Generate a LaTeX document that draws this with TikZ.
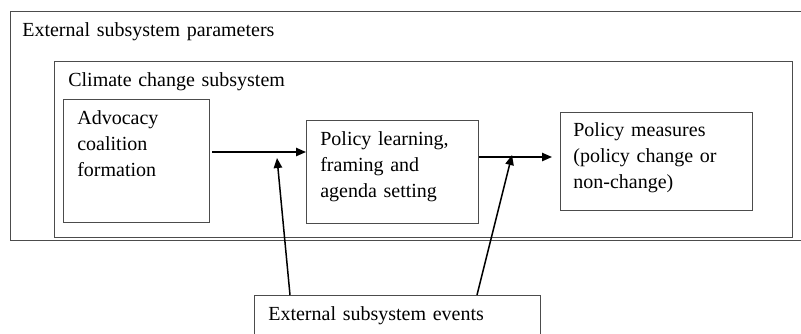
\documentclass[tikz,border=0pt]{standalone}
\usepackage{fontspec}
\setmainfont{Liberation Serif}
\usetikzlibrary{arrows.meta, positioning, calc}
\tikzset{
    frame/.style={draw=black!70, line width=0.6pt},
    box/.style={frame, rectangle, anchor=north west, inner sep=0pt},
    txt/.style={anchor=base west, inner sep=0pt, align=left, text width=6cm},
    arr/.style={-{Triangle[length=6pt, width=5pt]}, line width=0.9pt},
}

\begin{document}
\begin{tikzpicture}[x=0.6pt, y=-0.6pt, font=\fontsize{12}{15.6}\selectfont]
    \useasboundingbox (0,0) rectangle (801,333);
    \clip (0,0) rectangle (801,333);

    % outer frame, open on the right
    \draw[frame] (810,11) -- (10,11) -- (10,240) -- (810,240);
    \node[txt] (param) at (22,36) {External subsystem parameters};

    \node[box, minimum width=442.8pt, minimum height=105.6pt] (clim) at (54,61) {};
    \node[txt] (climtxt) at (68,86) {Climate change subsystem};

    \node[box, minimum width=87.6pt, minimum height=73.8pt] (adv) at (63,99) {};
    \node[box, minimum width=103.2pt, minimum height=61.8pt] (learn) at (306,120) {};
    \node[box, minimum width=115.2pt, minimum height=58.8pt] (meas) at (560,112) {};
    \node[box, minimum width=171.6pt, minimum height=30pt] (events) at (254,295) {};

    \node[txt] (advtxt) at (77,124) {Advocacy\\coalition\\formation};
    \node[txt] (learntxt) at (320,145) {Policy learning,\\framing and\\agenda setting};
    \node[txt] (meastxt) at (573,136) {Policy measures\\(policy change or\\non-change)};
    \node[txt] (eventstxt) at (268,320) {External subsystem events};

    \coordinate (a1) at (212,152);
    \coordinate (a2) at (552,157);
    \coordinate (t1) at (277,158);
    \coordinate (t2) at (512,155);

    \draw[arr] (a1) -- (a1 -| learn.west);
    \draw[arr] (a2 -| learn.east) -- (a2);
    \draw[arr] ([xshift=21.6pt]events.north west) -- (t1);
    \draw[arr] ([xshift=133.8pt]events.north west) -- (t2);
\end{tikzpicture}
\end{document}
